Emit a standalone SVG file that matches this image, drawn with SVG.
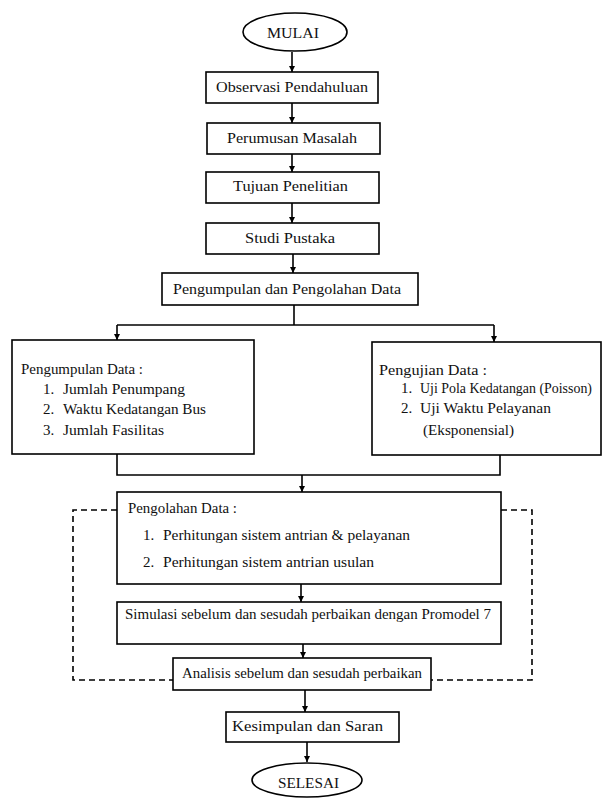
<svg xmlns="http://www.w3.org/2000/svg" width="603" height="799" viewBox="0 0 603 799">
<style>
.b{fill:#fff;stroke:#000;stroke-width:1.6}
.t{font-family:"Liberation Serif","Times New Roman",serif;font-size:15px;fill:#111}
.s{font-size:14px}
.c{fill:none;stroke:#000;stroke-width:1.6}
.d{fill:none;stroke:#000;stroke-width:1.6;stroke-dasharray:6 4}
</style>
<defs>
<marker id="ah" viewBox="0 0 10 10" refX="10" refY="5" markerWidth="6" markerHeight="6" markerUnits="userSpaceOnUse" orient="auto">
<path d="M0,0 L10,5 L0,10 z" fill="#000"/>
</marker>
</defs>
<rect width="603" height="799" fill="#fff"/>
<g id="connectors">
<line class="c" x1="292" y1="52" x2="292" y2="72" marker-end="url(#ah)"/>
<line class="c" x1="292" y1="103" x2="292" y2="123" marker-end="url(#ah)"/>
<line class="c" x1="292" y1="154" x2="292" y2="172" marker-end="url(#ah)"/>
<line class="c" x1="292" y1="203" x2="292" y2="223" marker-end="url(#ah)"/>
<line class="c" x1="293" y1="254" x2="293" y2="273" marker-end="url(#ah)"/>
<polyline class="c" points="294,305 294,325"/>
<line class="c" x1="117" y1="325" x2="494" y2="325"/>
<line class="c" x1="117" y1="325" x2="117" y2="340" marker-end="url(#ah)"/>
<line class="c" x1="494" y1="325" x2="494" y2="342" marker-end="url(#ah)"/>
<polyline class="c" points="117,454 117,475 500,475 500,455"/>
<line class="c" x1="302" y1="475" x2="302" y2="492" marker-end="url(#ah)"/>
<line class="c" x1="301" y1="584" x2="301" y2="602" marker-end="url(#ah)"/>
<line class="c" x1="303" y1="644" x2="303" y2="658" marker-end="url(#ah)"/>
<line class="c" x1="305" y1="690" x2="305" y2="712" marker-end="url(#ah)"/>
<line class="c" x1="307" y1="742" x2="307" y2="762" marker-end="url(#ah)"/>
<polyline class="d" points="117,510 73,510 73,680 173,680"/>
<polyline class="d" points="501,510 532,510 532,680 431,680"/>
</g>
<g id="mulai">
<ellipse class="b" cx="295" cy="32" rx="52" ry="19"/>
<text class="t" x="267" y="38" textLength="52" lengthAdjust="spacingAndGlyphs">MULAI</text>
</g>
<g id="observasi">
<rect class="b" x="206" y="72" width="172" height="31"/>
<text class="t" x="216" y="92" textLength="152" lengthAdjust="spacingAndGlyphs">Observasi Pendahuluan</text>
</g>
<g id="perumusan">
<rect class="b" x="207" y="123" width="173" height="31"/>
<text class="t" x="227" y="143" textLength="130" lengthAdjust="spacingAndGlyphs">Perumusan Masalah</text>
</g>
<g id="tujuan">
<rect class="b" x="206" y="172" width="173" height="31"/>
<text class="t" x="233" y="191" textLength="115" lengthAdjust="spacingAndGlyphs">Tujuan Penelitian</text>
</g>
<g id="studi">
<rect class="b" x="206" y="223" width="173" height="31"/>
<text class="t" x="245" y="243" textLength="90" lengthAdjust="spacingAndGlyphs">Studi Pustaka</text>
</g>
<g id="pengumpulan-pengolahan">
<rect class="b" x="162" y="273" width="256" height="32"/>
<text class="t" x="173" y="294" textLength="228" lengthAdjust="spacingAndGlyphs">Pengumpulan dan Pengolahan Data</text>
</g>
<g id="pengumpulan-data">
<rect class="b" x="12" y="340" width="242" height="114"/>
<text class="t" x="21" y="374" textLength="122" lengthAdjust="spacingAndGlyphs">Pengumpulan Data :</text>
<text class="t" x="43" y="394">1.</text>
<text class="t" x="63" y="394" textLength="122" lengthAdjust="spacingAndGlyphs">Jumlah Penumpang</text>
<text class="t" x="43" y="414">2.</text>
<text class="t" x="63" y="414" textLength="143" lengthAdjust="spacingAndGlyphs">Waktu Kedatangan Bus</text>
<text class="t" x="43" y="435">3.</text>
<text class="t" x="63" y="435" textLength="101" lengthAdjust="spacingAndGlyphs">Jumlah Fasilitas</text>
</g>
<g id="pengujian-data">
<rect class="b" x="372" y="342" width="229" height="113"/>
<text class="t" x="379" y="375" textLength="108" lengthAdjust="spacingAndGlyphs">Pengujian Data :</text>
<text class="t" x="401" y="393">1.</text>
<text class="t s" x="420" y="393" textLength="172" lengthAdjust="spacingAndGlyphs">Uji Pola Kedatangan (Poisson)</text>
<text class="t" x="401" y="413">2.</text>
<text class="t" x="420" y="413" textLength="131" lengthAdjust="spacingAndGlyphs">Uji Waktu Pelayanan</text>
<text class="t" x="423" y="435" textLength="91" lengthAdjust="spacingAndGlyphs">(Eksponensial)</text>
</g>
<g id="pengolahan-data">
<rect class="b" x="117" y="492" width="384" height="92"/>
<text class="t" x="128" y="513" textLength="109" lengthAdjust="spacingAndGlyphs">Pengolahan Data :</text>
<text class="t" x="143" y="540">1.</text>
<text class="t" x="163" y="540" textLength="247" lengthAdjust="spacingAndGlyphs">Perhitungan sistem antrian &amp; pelayanan</text>
<text class="t" x="143" y="567">2.</text>
<text class="t" x="163" y="567" textLength="211" lengthAdjust="spacingAndGlyphs">Perhitungan sistem antrian usulan</text>
</g>
<g id="simulasi">
<rect class="b" x="117" y="602" width="384" height="42"/>
<text class="t" x="125" y="619" textLength="366" lengthAdjust="spacingAndGlyphs">Simulasi sebelum dan sesudah perbaikan dengan Promodel 7</text>
</g>
<g id="analisis">
<rect class="b" x="173" y="658" width="258" height="32"/>
<text class="t" x="182" y="678" textLength="240" lengthAdjust="spacingAndGlyphs">Analisis sebelum dan sesudah perbaikan</text>
</g>
<g id="kesimpulan">
<rect class="b" x="226" y="712" width="173" height="30"/>
<text class="t" x="232" y="731" textLength="151" lengthAdjust="spacingAndGlyphs">Kesimpulan dan Saran</text>
</g>
<g id="selesai">
<ellipse class="b" cx="307" cy="780" rx="55" ry="17"/>
<text class="t" x="278" y="788" textLength="61" lengthAdjust="spacingAndGlyphs">SELESAI</text>
</g>
</svg>
